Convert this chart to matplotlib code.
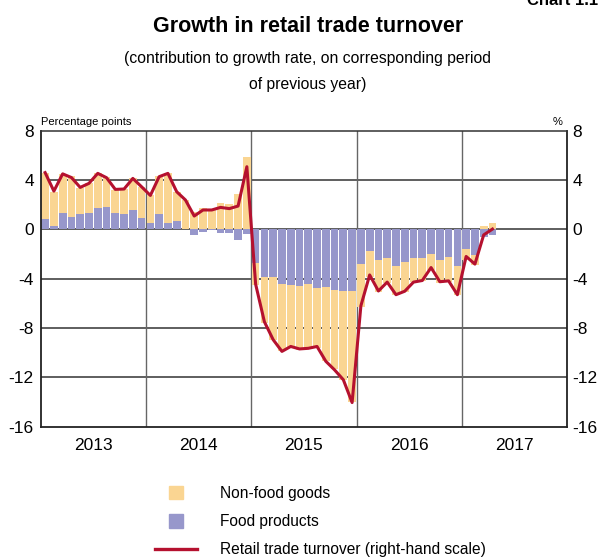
import numpy as np
import matplotlib
matplotlib.use("Agg")
import matplotlib.pyplot as plt
from matplotlib.patches import Rectangle, Patch
from matplotlib.lines import Line2D
from matplotlib.legend_handler import HandlerPatch

plt.rcParams['font.family'] = ['Liberation Sans', 'DejaVu Sans']
plt.rcParams['axes.unicode_minus'] = False

# -----------------------------
# Data (monthly, Jan 2013 - Apr 2017)
# -----------------------------
years = ['2013', '2014', '2015', '2016', '2017']

# contribution of food products (percentage points)
food = [0.81, 0.30, 1.35, 0.97, 1.22, 1.32, 1.73, 1.84, 1.32, 1.27, 1.54, 0.89,
        0.54, 1.22, 0.49, 0.70, 0.05, -0.49, -0.19, -0.04, -0.27, -0.32, -0.90, -0.38,
        -2.73, -3.84, -3.84, -4.46, -4.50, -4.60, -4.43, -4.73, -4.65, -4.92, -4.97, -4.97,
        -2.80, -1.73, -2.49, -2.35, -2.97, -2.62, -2.33, -2.35, -1.96, -2.49, -2.25, -2.97,
        -1.60, -2.08, -0.65, -0.43]

# contribution of non-food goods (percentage points)
non_food = [3.73, 2.75, 3.14, 3.35, 2.10, 2.41, 2.81, 2.43, 1.87, 2.00, 2.59, 2.57,
            2.26, 3.10, 4.05, 2.35, 2.33, 1.43, 1.70, 1.62, 2.16, 2.05, 2.90, 5.84,
            -1.75, -3.76, -5.13, -5.44, -5.10, -5.20, -5.27, -4.87, -6.05, -6.38, -7.23, -9.00,
            -3.47, -2.11, -2.56, -2.03, -2.35, -2.43, -1.91, -1.81, -1.34, -1.89, -1.99, -2.35,
            -0.89, -0.82, 0.30, 0.49]

# retail trade turnover, y/y growth (%)
turnover = [4.60, 3.10, 4.50, 4.20, 3.40, 3.73, 4.54, 4.19, 3.24, 3.27, 4.13, 3.45,
            2.75, 4.27, 4.54, 3.05, 2.38, 1.08, 1.57, 1.57, 1.78, 1.68, 1.89, 5.08,
            -4.45, -7.50, -8.95, -9.90, -9.50, -9.70, -9.65, -9.50, -10.70, -11.40, -12.20, -14.05,
            -6.20, -3.70, -5.00, -4.28, -5.30, -5.02, -4.28, -4.15, -3.10, -4.25, -4.18, -5.30,
            -2.20, -2.82, -0.45, 0.02]

yellow = '#FAD592'
purple = '#9797CB'
red = '#B5112F'

food = np.array(food)
non_food = np.array(non_food)
x = np.arange(len(food)) + 0.5
nf_bottom = np.where(np.sign(non_food) == np.sign(food), food, 0.0)

# -----------------------------
# Figure
# -----------------------------
fig = plt.figure(figsize=(5.99, 5.60), dpi=100)
ax = fig.add_axes([0.068, 0.2382, 0.8786, 0.5284])

for v in [-12, -8, -4, 0, 4]:
    ax.axhline(v, color='#333333', lw=1.1, zorder=0)
for b in [12, 24, 36, 48]:
    ax.axvline(b, color='#666666', lw=1.0, zorder=0)

ax.bar(x, food, width=0.88, color=purple, zorder=2)
ax.bar(x, non_food, width=0.88, bottom=nf_bottom, color=yellow, zorder=2)

ax.set_xlim(0, 60)
ax.set_ylim(-16, 8)
ax.set_yticks(np.arange(-16, 9, 4))
ax.set_xticks([6, 18, 30, 42, 54])
ax.set_xticklabels(years)
ax.tick_params(axis='both', length=0, labelsize=12.5)
ax.tick_params(axis='y', pad=5)
ax.tick_params(axis='x', pad=8)
for s in ['left', 'right', 'bottom']:
    ax.spines[s].set_color('#222222')
    ax.spines[s].set_linewidth(1.3)
ax.spines['top'].set_color('#333333')
ax.spines['top'].set_linewidth(1.1)

ax2 = ax.twinx()
ax2.plot(x, turnover, color=red, lw=2.2, zorder=3)
ax2.set_ylim(-16, 8)
ax2.set_yticks(np.arange(-16, 9, 4))
ax2.tick_params(axis='y', length=0, labelsize=12.5, pad=4)
for s in ax2.spines.values():
    s.set_visible(False)

ax.text(0.0, 1.012, 'Percentage points', transform=ax.transAxes,
        ha='left', va='bottom', fontsize=8)
ax.text(0.992, 1.012, '%', transform=ax.transAxes,
        ha='right', va='bottom', fontsize=8)

# titles
fig.text(0.998, 1 - 5 / 560, 'Chart 1.1', fontsize=12, fontweight='bold',
         ha='right', va='baseline')
fig.text(0.514, 1 - 26 / 560, 'Growth in retail trade turnover',
         fontsize=15.5, fontweight='bold', ha='center', va='center')
fig.text(0.514, 1 - 58 / 560, '(contribution to growth rate, on corresponding period',
         fontsize=11.3, ha='center', va='center')
fig.text(0.514, 1 - 84 / 560, 'of previous year)',
         fontsize=11.3, ha='center', va='center')


# legend with square patches
def square_patch(legend, orig_handle, xdescent, ydescent, width, height, fontsize):
    s = height * 1.25
    return Rectangle((-xdescent + (width - s) / 2, -ydescent + (height - s) / 2), s, s)


handles = [Patch(color=yellow), Patch(color=purple), Line2D([], [], color=red, lw=2.4)]
labels = ['Non-food goods', 'Food products', 'Retail trade turnover (right-hand scale)']
fs = 11.2
fig.legend(handles, labels, loc='upper left', bbox_to_anchor=(155 / 599, 1 - 486 / 560),
           frameon=False, fontsize=fs, handlelength=42 / (fs / 0.72),
           handletextpad=23 / (fs / 0.72),
           labelspacing=0.85, borderpad=0, borderaxespad=0,
           handler_map={Patch: HandlerPatch(patch_func=square_patch)})

plt.savefig("out.png", dpi=100)
